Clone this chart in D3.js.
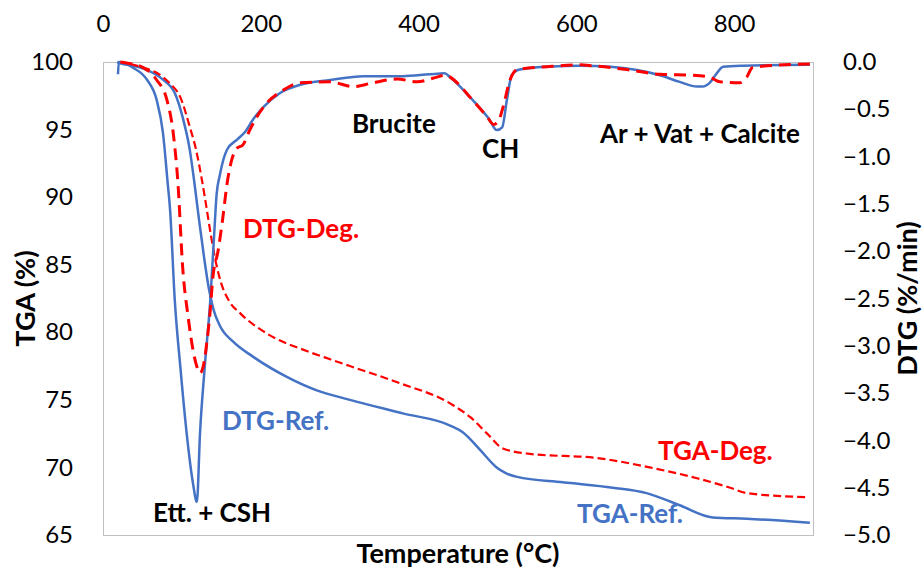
<!DOCTYPE html>
<html>
<head>
<meta charset="utf-8">
<script src="https://cdn.jsdelivr.net/npm/d3@7"></script>
<style>
  html, body { margin: 0; padding: 0; background: #fff; }
  svg { display: block; font-family: Lato, "Open Sans", sans-serif; }
</style>
</head>
<body>
<svg id="chart" width="924" height="569"></svg>
<script>
// Temperature axis ticks (°C) and the two value axes
const tempTicks = [0, 200, 400, 600, 800];
const tgaTicks = [65, 70, 75, 80, 85, 90, 95, 100];
const dtgTicks = [-5, -4.5, -4, -3.5, -3, -2.5, -2, -1.5, -1, -0.5, 0];

// TGA of the reference paste (mass %, left axis)
const tgaRefT = [18, 22, 40, 56, 76, 91, 101, 110, 116, 122, 128, 134, 140, 148, 165, 190, 233, 271, 313, 380, 440, 456, 478, 499, 510, 525, 583, 646, 689, 731, 773, 816, 896];
const tgaRefV = [100.0, 99.9, 99.7, 99.4, 98.7, 97.7, 95.9, 93.5, 91.0, 88.2, 85.6, 83.3, 81.7, 80.5, 79.3, 78.2, 76.7, 75.7, 75.0, 74.0, 73.1, 72.6, 71.3, 70.0, 69.6, 69.3, 68.9, 68.5, 68.1, 67.2, 66.3, 66.2, 65.9];

// TGA of the degraded paste
const tgaDegT = [20, 30, 50, 68, 85, 98, 110, 118, 125, 131, 137, 143, 150, 160, 174, 208, 259, 288, 313, 373, 444, 466, 487, 507, 541, 626, 693, 753, 795, 816, 892];
const tgaDegV = [100.0, 99.9, 99.6, 99.2, 98.4, 97.4, 95.2, 93.5, 91.4, 89.3, 87.1, 85.2, 83.6, 82.3, 81.4, 79.9, 78.6, 78.0, 77.5, 76.3, 74.6, 73.7, 72.5, 71.4, 71.0, 70.7, 70.0, 69.2, 68.5, 68.1, 67.8];

// DTG of the reference paste (%/min, right axis)
const dtgRefT = [19, 20, 38, 56, 68, 76, 82, 85, 91, 98, 106, 114, 119, 123, 129, 136, 141, 144, 148, 157, 170, 180, 190, 203, 224, 250, 288, 330, 380, 414, 433, 440, 465, 490, 499, 506, 512, 518, 528, 563, 605, 643, 706, 731, 753, 760, 769, 778, 786, 811, 896];
const dtgRefV = [-0.13, 0.0, -0.06, -0.19, -0.40, -0.75, -1.28, -1.56, -2.52, -3.22, -3.92, -4.45, -4.65, -3.92, -3.22, -2.52, -1.81, -1.40, -1.20, -0.93, -0.82, -0.74, -0.61, -0.48, -0.33, -0.24, -0.19, -0.15, -0.15, -0.13, -0.12, -0.16, -0.37, -0.61, -0.72, -0.69, -0.40, -0.14, -0.08, -0.05, -0.04, -0.05, -0.14, -0.21, -0.26, -0.26, -0.22, -0.12, -0.05, -0.04, -0.03];

// DTG of the degraded paste
const dtgDegT = [22, 30, 51, 68, 81, 89, 95, 101, 108, 114, 119, 123, 127, 132, 136, 139, 146, 152, 157, 163, 170, 177, 186, 195, 208, 228, 250, 288, 317, 342, 373, 398, 423, 433, 449, 465, 487, 495, 501, 507, 516, 525, 563, 605, 621, 664, 706, 748, 769, 782, 807, 816, 823, 842, 896];
const dtgDegV = [0.0, -0.01, -0.06, -0.19, -0.40, -0.75, -1.28, -2.17, -2.70, -3.04, -3.22, -3.29, -3.22, -2.94, -2.62, -2.30, -1.99, -1.64, -1.30, -1.04, -0.91, -0.88, -0.72, -0.58, -0.43, -0.30, -0.22, -0.21, -0.26, -0.22, -0.18, -0.21, -0.16, -0.14, -0.22, -0.37, -0.58, -0.66, -0.63, -0.48, -0.19, -0.08, -0.05, -0.03, -0.04, -0.08, -0.13, -0.14, -0.16, -0.21, -0.22, -0.16, -0.06, -0.04, -0.02];

const BLUE = "#4472C4";
const RED = "#FF0000";

const svg = d3.select("#chart");
const plotLeft = 103, plotRight = 813, plotTop = 62, plotBottom = 535;

const x = d3.scaleLinear().domain([0, 900]).range([plotLeft, plotRight]);
const yT = d3.scaleLinear().domain([65, 100]).range([plotBottom, plotTop]);
const yD = d3.scaleLinear().domain([-5, 0]).range([plotBottom, plotTop]);

// plot-area frame
svg.append("rect")
  .attr("x", plotLeft + 0.5).attr("y", plotTop + 0.5)
  .attr("width", plotRight - plotLeft).attr("height", plotBottom - plotTop)
  .attr("fill", "none").attr("stroke", "#BFBFBF").attr("stroke-width", 1);

function styleAxis(g) {
  g.select(".domain").remove();
  g.selectAll("text").attr("font-size", 24).attr("fill", "#000")
    .attr("font-family", "Lato, 'Open Sans', sans-serif");
}

svg.append("g").attr("transform", `translate(0,${plotTop})`)
  .call(d3.axisTop(x).tickValues(tempTicks).tickSize(0).tickPadding(30).tickFormat(d3.format("d")))
  .call(styleAxis);

svg.append("g").attr("transform", `translate(${plotLeft},0)`)
  .call(d3.axisLeft(yT).tickValues(tgaTicks).tickSize(0).tickPadding(30).tickFormat(d3.format("d")))
  .call(styleAxis);

svg.append("g").attr("transform", `translate(${plotRight},0)`)
  .call(d3.axisRight(yD).tickValues(dtgTicks).tickSize(0).tickPadding(30).tickFormat(d3.format(".1f")))
  .call(styleAxis);

// axis titles
svg.append("text").attr("x", (plotLeft + plotRight) / 2).attr("y", 563)
  .attr("text-anchor", "middle").attr("font-size", 27).attr("font-weight", "bold")
  .text("Temperature (°C)");
svg.append("text").attr("transform", `translate(35,${(plotTop + plotBottom) / 2}) rotate(-90)`)
  .attr("text-anchor", "middle").attr("font-size", 27).attr("font-weight", "bold")
  .text("TGA (%)");
svg.append("text").attr("transform", `translate(917,${(plotTop + plotBottom) / 2}) rotate(-90)`)
  .attr("text-anchor", "middle").attr("font-size", 27).attr("font-weight", "bold")
  .text("DTG (%/min)");

function series(ts, vs, yScale) {
  return d3.line().x(d => x(d[0])).y(d => yScale(d[1])).curve(d3.curveMonotoneX)(d3.zip(ts, vs));
}

const plot = svg.append("g");
plot.append("path").attr("d", series(tgaRefT, tgaRefV, yT))
  .attr("fill", "none").attr("stroke", BLUE).attr("stroke-width", 2.5);
plot.append("path").attr("d", series(tgaDegT, tgaDegV, yT))
  .attr("fill", "none").attr("stroke", RED).attr("stroke-width", 2.2).attr("stroke-dasharray", "8,4");
plot.append("path").attr("d", series(dtgRefT, dtgRefV, yD))
  .attr("fill", "none").attr("stroke", BLUE).attr("stroke-width", 2.5);
plot.append("path").attr("d", series(dtgDegT, dtgDegV, yD))
  .attr("fill", "none").attr("stroke", RED).attr("stroke-width", 3).attr("stroke-dasharray", "12,7");

// peak and curve annotations
const notes = [
  { t: "Brucite", x: 352, y: 133, c: "#000" },
  { t: "CH", x: 482, y: 158, c: "#000" },
  { t: "Ar + Vat + Calcite", x: 600, y: 143, c: "#000" },
  { t: "DTG-Deg.", x: 243, y: 238, c: RED },
  { t: "DTG-Ref.", x: 222, y: 430, c: BLUE },
  { t: "Ett. + CSH", x: 153, y: 522, c: "#000" },
  { t: "TGA-Deg.", x: 658, y: 460, c: RED },
  { t: "TGA-Ref.", x: 577, y: 523, c: BLUE }
];
svg.append("g").selectAll("text").data(notes).join("text")
  .attr("x", d => d.x).attr("y", d => d.y)
  .attr("font-size", 26).attr("font-weight", "bold").attr("fill", d => d.c)
  .text(d => d.t);
</script>
</body>
</html>
